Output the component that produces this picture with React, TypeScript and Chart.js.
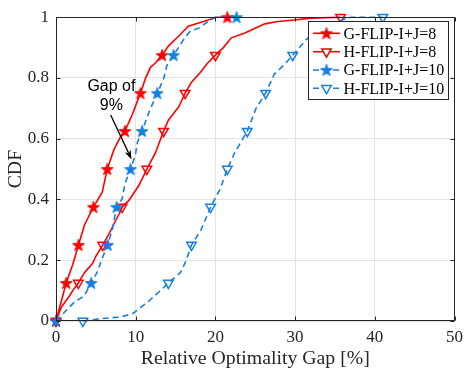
import React, { useEffect, useRef } from "react";
import { Chart, registerables } from "chart.js";

Chart.register(...registerables);

// ---------- data ----------
const seriesNames = ["G-FLIP-I+J=8", "H-FLIP-I+J=8", "G-FLIP-I+J=10", "H-FLIP-I+J=10"];
const xTickValues = [0, 10, 20, 30, 40, 50];
const yTickValues = [0, 0.2, 0.4, 0.6, 0.8, 1];
const cdfLevels = [0, 0.125, 0.25, 0.375, 0.5, 0.625, 0.75, 0.875, 1];

const g8X = [0, 1.28, 2.1, 2.82, 3.57, 4.69, 5.19, 5.8, 6.43, 7.27, 8.1, 8.64, 9.55, 10.4, 10.6, 11.2, 11.85, 12.5, 13.3, 14.1, 15.6, 16.6, 17.9, 19.1, 20.15, 21.5];
const g8Y = [0, 0.125, 0.186, 0.25, 0.316, 0.375, 0.397, 0.424, 0.5, 0.564, 0.607, 0.625, 0.678, 0.737, 0.75, 0.797, 0.835, 0.85, 0.875, 0.905, 0.943, 0.97, 0.981, 0.991, 1, 1];
const g8MarkX = [0, 1.28, 2.82, 4.69, 6.43, 8.64, 10.6, 13.3, 21.5];

const h8X = [0, 0.66, 1.7, 2.1, 2.8, 3.57, 4.6, 5.0, 5.86, 6.7, 7.3, 7.93, 8.3, 9.14, 10.4, 11.4, 12.47, 13.5, 14.1, 15.4, 15.6, 16.2, 17.0, 18.1, 18.9, 20.0, 21.0, 22.0, 23.7, 26.2, 27.8, 29.9, 32, 35.7];
const h8Y = [0, 0.045, 0.083, 0.1, 0.125, 0.159, 0.19, 0.213, 0.25, 0.289, 0.321, 0.353, 0.375, 0.397, 0.446, 0.5, 0.553, 0.625, 0.661, 0.705, 0.716, 0.75, 0.786, 0.818, 0.845, 0.875, 0.9, 0.932, 0.948, 0.978, 0.986, 0.991, 0.997, 1];
const h8MarkX = [0, 2.8, 5.86, 8.3, 11.4, 13.5, 16.2, 20.0, 35.7];

const g10X = [0, 1.07, 2.3, 3.57, 4.4, 5.24, 5.65, 6.48, 7.1, 7.6, 8.3, 8.64, 9.35, 9.97, 10.2, 10.8, 11.6, 12.7, 13.5, 13.9, 14.75, 16.0, 16.8, 17.9, 19.1, 19.95, 22.65];
const g10Y = [0, 0.029, 0.062, 0.083, 0.125, 0.164, 0.197, 0.25, 0.305, 0.375, 0.402, 0.451, 0.5, 0.548, 0.586, 0.625, 0.683, 0.75, 0.797, 0.84, 0.875, 0.926, 0.953, 0.964, 0.986, 1, 1];
const g10MarkX = [0, 4.4, 6.48, 7.6, 9.35, 10.8, 12.7, 14.75, 22.65];

const h10X = [3.37, 5.65, 8.1, 9.6, 11.5, 13.1, 14.1, 15.6, 16.2, 17.0, 18.2, 19.4, 20.6, 21.5, 22.4, 24.0, 25.1, 26.3, 27.4, 28.7, 29.7, 31.4, 32.8, 34.1, 35.3, 37, 41];
const h10Y = [0, 0.008, 0.013, 0.024, 0.062, 0.1, 0.125, 0.159, 0.191, 0.25, 0.3, 0.375, 0.435, 0.5, 0.553, 0.625, 0.7, 0.75, 0.813, 0.845, 0.875, 0.926, 0.959, 0.975, 0.986, 1, 1];
const h10MarkX = [3.37, 14.1, 17.0, 19.4, 21.5, 24.0, 26.3, 29.7, 41];

// annotation (data coordinates)
const annotationLines = ["Gap of", "9%"];
const annotationTextX = 6.95;
const annotationTextY = [0.771, 0.7075];
const arrowFrom = { x: 6.86, y: 0.678 };
const arrowTo = { x: 9.48, y: 0.532 };

// ---------- styles ----------
const RED = "#ff0000";
const BLUE = "#1580e2";
const AXIS = "#262626";
const GRID = "#e4e4e4";
const SERIF = '"Liberation Serif", "Times New Roman", serif';
const SANS = '"Liberation Sans", Arial, sans-serif';

function makeStar(color: string, r: number): HTMLCanvasElement {
  const size = Math.ceil(r * 2 + 3);
  const c = document.createElement("canvas");
  c.width = size;
  c.height = size;
  const ctx = c.getContext("2d")!;
  const cx = size / 2;
  const cy = size / 2 + r * 0.09;
  ctx.beginPath();
  for (let i = 0; i < 10; i++) {
    const rad = i % 2 === 0 ? r : r * 0.4;
    const a = -Math.PI / 2 + (i * Math.PI) / 5;
    const px = cx + rad * Math.cos(a);
    const py = cy + rad * Math.sin(a);
    if (i === 0) ctx.moveTo(px, py);
    else ctx.lineTo(px, py);
  }
  ctx.closePath();
  ctx.fillStyle = color;
  ctx.fill();
  ctx.strokeStyle = color;
  ctx.lineWidth = 1;
  ctx.stroke();
  return c;
}

function toPoints(xs: number[], ys: number[]) {
  return xs.map((x, i) => ({ x, y: ys[i] }));
}

export default function App() {
  const canvasRef = useRef<HTMLCanvasElement | null>(null);

  useEffect(() => {
    const canvas = canvasRef.current;
    if (!canvas) return;
    const redStar = makeStar(RED, 6.2);
    const blueStar = makeStar(BLUE, 6.2);

    const seriesStyles = [
      { color: RED, dash: [] as number[], marker: "star", star: redStar },
      { color: RED, dash: [] as number[], marker: "tri", star: redStar },
      { color: BLUE, dash: [6, 4], marker: "star", star: blueStar },
      { color: BLUE, dash: [6, 4], marker: "tri", star: blueStar },
    ];
    const lines = [
      toPoints(g8X, g8Y),
      toPoints(h8X, h8Y),
      toPoints(g10X, g10Y),
      toPoints(h10X, h10Y),
    ];
    const marks = [g8MarkX, h8MarkX, g10MarkX, h10MarkX].map((xs) => toPoints(xs, cdfLevels));

    const datasets: any[] = [];
    lines.forEach((pts, i) => {
      const st = seriesStyles[i];
      datasets.push({
        label: seriesNames[i],
        data: pts,
        borderColor: st.color,
        borderWidth: 1.6,
        borderDash: st.dash,
        pointRadius: 0,
        tension: 0,
        fill: false,
        clip: false,
        order: 40 - i * 10,
      });
      datasets.push({
        label: seriesNames[i] + " markers",
        data: marks[i],
        showLine: false,
        borderColor: st.color,
        backgroundColor: st.marker === "star" ? st.color : "rgba(0,0,0,0)",
        pointStyle: st.marker === "star" ? st.star : "triangle",
        rotation: st.marker === "star" ? 0 : 180,
        pointRadius: 5.5,
        pointBorderWidth: 1.5,
        clip: false,
        order: 35 - i * 10,
      });
    });

    const decorPlugin = {
      id: "decor",
      afterDraw(chart: any) {
        const ctx = chart.ctx as CanvasRenderingContext2D;
        const { left, right, top, bottom } = chart.chartArea;
        const xs = chart.scales.x;
        const ys = chart.scales.y;
        ctx.save();
        // frame
        ctx.strokeStyle = AXIS;
        ctx.lineWidth = 1;
        const L = Math.round(left) + 0.5;
        const R = Math.round(right) - 0.5;
        const T = Math.round(top) + 0.5;
        const B = Math.round(bottom) - 0.5;
        ctx.strokeRect(L, T, R - L, B - T);
        // inward ticks
        ctx.beginPath();
        xTickValues.forEach((v) => {
          const px = Math.round(xs.getPixelForValue(v)) + 0.5;
          ctx.moveTo(px, B);
          ctx.lineTo(px, B - 4);
          ctx.moveTo(px, T);
          ctx.lineTo(px, T + 4);
        });
        yTickValues.forEach((v) => {
          const py = Math.round(ys.getPixelForValue(v)) + 0.5;
          ctx.moveTo(L, py);
          ctx.lineTo(L + 4, py);
          ctx.moveTo(R, py);
          ctx.lineTo(R - 4, py);
        });
        ctx.stroke();

        // annotation
        ctx.fillStyle = "#000";
        ctx.font = `16px ${SANS}`;
        ctx.textAlign = "center";
        ctx.textBaseline = "middle";
        annotationLines.forEach((t, i) => {
          ctx.fillText(t, xs.getPixelForValue(annotationTextX), ys.getPixelForValue(annotationTextY[i]));
        });
        const ax0 = xs.getPixelForValue(arrowFrom.x);
        const ay0 = ys.getPixelForValue(arrowFrom.y);
        const ax1 = xs.getPixelForValue(arrowTo.x);
        const ay1 = ys.getPixelForValue(arrowTo.y);
        const ang = Math.atan2(ay1 - ay0, ax1 - ax0);
        const hl = 9;
        const hw = 3.2;
        ctx.strokeStyle = "#000";
        ctx.lineWidth = 1.3;
        ctx.beginPath();
        ctx.moveTo(ax0, ay0);
        ctx.lineTo(ax1 - Math.cos(ang) * hl * 0.8, ay1 - Math.sin(ang) * hl * 0.8);
        ctx.stroke();
        ctx.beginPath();
        ctx.moveTo(ax1, ay1);
        const bx = ax1 - Math.cos(ang) * hl;
        const by = ay1 - Math.sin(ang) * hl;
        ctx.lineTo(bx + Math.sin(ang) * hw, by - Math.cos(ang) * hw);
        ctx.lineTo(ax1 - Math.cos(ang) * hl * 0.75, ay1 - Math.sin(ang) * hl * 0.75);
        ctx.lineTo(bx - Math.sin(ang) * hw, by + Math.cos(ang) * hw);
        ctx.closePath();
        ctx.fillStyle = "#000";
        ctx.fill();

        // legend
        const lx = 308.5;
        const ly = 21.5;
        const lw = 140;
        const lh = 78;
        ctx.fillStyle = "#fff";
        ctx.fillRect(lx, ly, lw, lh);
        ctx.strokeStyle = AXIS;
        ctx.lineWidth = 1;
        ctx.strokeRect(lx, ly, lw, lh);
        const rowY = [33.3, 51.7, 70, 88.3];
        seriesNames.forEach((name, i) => {
          const st = seriesStyles[i];
          const cy = rowY[i];
          ctx.strokeStyle = st.color;
          ctx.lineWidth = 1.6;
          ctx.setLineDash(st.dash);
          ctx.beginPath();
          ctx.moveTo(313, cy);
          ctx.lineTo(340, cy);
          ctx.stroke();
          ctx.setLineDash([]);
          const mx = 326.5;
          if (st.marker === "star") {
            ctx.drawImage(st.star, mx - st.star.width / 2, cy - st.star.height / 2);
          } else {
            const r = 5.5;
            ctx.lineWidth = 1.5;
            ctx.beginPath();
            ctx.moveTo(mx - r * 0.866, cy - r / 2);
            ctx.lineTo(mx + r * 0.866, cy - r / 2);
            ctx.lineTo(mx, cy + r);
            ctx.closePath();
            ctx.fillStyle = "#fff";
            ctx.fill();
            ctx.stroke();
          }
          ctx.fillStyle = "#000";
          ctx.font = `16px ${SERIF}`;
          ctx.textAlign = "left";
          ctx.textBaseline = "middle";
          ctx.fillText(name, 343.5, cy + 1);
        });
        ctx.restore();
      },
    };

    const chart = new Chart(canvas, {
      type: "line",
      data: { datasets },
      options: {
        animation: false,
        responsive: true,
        maintainAspectRatio: false,
        layout: { padding: { left: 0, right: 12, top: 12, bottom: 0 } },
        plugins: {
          legend: { display: false },
          tooltip: { enabled: false },
        },
        scales: {
          x: {
            type: "linear",
            min: 0,
            max: 50,
            afterBuildTicks: (scale: any) => {
              scale.ticks = xTickValues.map((v) => ({ value: v }));
            },
            afterFit: (scale: any) => {
              scale.height = 49;
            },
            ticks: {
              color: AXIS,
              font: { family: SERIF, size: 17 },
              padding: 6,
              maxRotation: 0,
              callback: (v: any) => String(v),
            },
            grid: { color: GRID, drawTicks: false, lineWidth: 1 },
            border: { display: false },
            title: {
              display: true,
              text: "Relative Optimality Gap [%]",
              color: AXIS,
              font: { family: SERIF, size: 19.8, lineHeight: 1.15 },
              padding: { top: 0, bottom: 0 },
            },
          },
          y: {
            type: "linear",
            min: 0,
            max: 1,
            afterBuildTicks: (scale: any) => {
              scale.ticks = yTickValues.map((v) => ({ value: v }));
            },
            afterFit: (scale: any) => {
              scale.width = 56;
            },
            ticks: {
              color: AXIS,
              font: { family: SERIF, size: 17 },
              padding: 7,
              callback: (v: any) => String(Math.round(Number(v) * 10) / 10),
            },
            grid: { color: GRID, drawTicks: false, lineWidth: 1 },
            border: { display: false },
            title: {
              display: true,
              text: "CDF",
              color: AXIS,
              font: { family: SERIF, size: 19.8, lineHeight: 1.15 },
              padding: { top: 4, bottom: 0 },
            },
          },
        },
      },
      plugins: [decorPlugin],
    } as any);

    return () => {
      chart.destroy();
    };
  }, []);

  return (
    <div style={{ position: "fixed", left: 0, top: 0, width: 469, height: 370, background: "#fff" }}>
      <canvas ref={canvasRef} />
    </div>
  );
}
